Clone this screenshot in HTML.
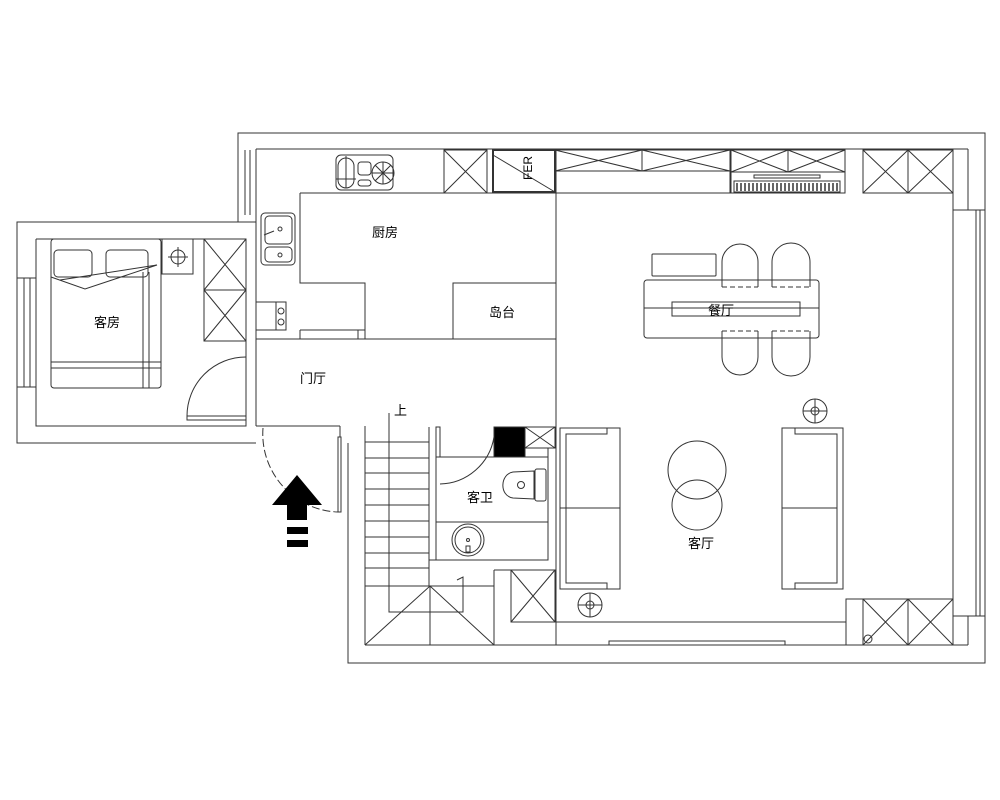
<!DOCTYPE html>
<html><head><meta charset="utf-8"><style>
html,body{margin:0;padding:0;background:#fff;width:1000px;height:800px;overflow:hidden}
text{font-family:"Liberation Sans","Noto Sans CJK SC",sans-serif;font-size:13px;fill:#000}
</style></head><body>
<svg width="1000" height="800" viewBox="0 0 1000 800" xmlns="http://www.w3.org/2000/svg">
<g fill="none" stroke="#333" stroke-width="1">
<!-- outer walls -->
<polyline points="238,215 238,133 985,133 985,663 348,663 348,443"/>
<polyline points="256,222 17,222 17,443 256,443"/>
<polyline points="36,239 246,239 246,426 36,426 36,239"/>
<line x1="256" y1="149" x2="256" y2="426"/>
<line x1="256" y1="149" x2="968" y2="149"/>
<line x1="953" y1="190" x2="953" y2="645"/>
<line x1="968" y1="149" x2="968" y2="210"/>
<line x1="953" y1="210" x2="985" y2="210"/>
<line x1="968" y1="616" x2="968" y2="645"/>
<line x1="953" y1="616" x2="985" y2="616"/>
<line x1="976" y1="210" x2="976" y2="616"/>
<line x1="980" y1="210" x2="980" y2="616"/>
<line x1="365" y1="645" x2="968" y2="645"/>
<line x1="365" y1="426" x2="365" y2="645"/>
<line x1="256" y1="426" x2="340" y2="426"/>
<line x1="238" y1="215" x2="238" y2="222"/>
<line x1="245" y1="150" x2="245" y2="215"/>
<line x1="250" y1="150" x2="250" y2="215"/>
<!-- guest window -->
<line x1="24" y1="278" x2="24" y2="387"/><line x1="30" y1="278" x2="30" y2="387"/>
<line x1="17" y1="278" x2="36" y2="278"/><line x1="17" y1="387" x2="36" y2="387"/>
<!-- bed -->
<rect x="51" y="239" width="110" height="149" rx="3"/>
<rect x="54" y="250" width="38" height="27" rx="4"/>
<rect x="106" y="250" width="42" height="27" rx="4"/>
<polyline points="51,277 85,289 157,265 60,280"/>
<line x1="51" y1="362" x2="161" y2="362"/><line x1="51" y1="368" x2="161" y2="368"/>
<line x1="143" y1="272" x2="143" y2="388"/><line x1="149" y1="272" x2="149" y2="388"/>
<rect x="162" y="239" width="31" height="35"/>
<circle cx="178" cy="257" r="7"/><line x1="168" y1="257" x2="188" y2="257"/><line x1="178" y1="247" x2="178" y2="267"/>
<!-- wardrobe -->
<rect x="204" y="239" width="42" height="102"/>
<line x1="204" y1="290" x2="246" y2="290"/>
<path d="M204,239 L246,290 M246,239 L204,290 M204,290 L246,341 M246,290 L204,341"/>
<!-- guest door -->
<path d="M187,416 A59,59 0 0 1 246,357"/>
<rect x="187" y="416" width="59" height="4"/>
<!-- kitchen -->
<polyline points="300,193 556,193"/>
<polyline points="300,193 300,283 365,283 365,339"/>
<rect x="453" y="283" width="103" height="56"/>
<line x1="256" y1="339" x2="556" y2="339"/>
<line x1="300" y1="330" x2="300" y2="339"/><line x1="358" y1="330" x2="358" y2="339"/><line x1="300" y1="330" x2="365" y2="330"/>
<line x1="556" y1="149" x2="556" y2="645"/>
<rect x="336" y="155" width="57" height="35" rx="5"/>
<rect x="338" y="158" width="16" height="30" rx="8"/>
<line x1="336" y1="179" x2="356" y2="179"/><line x1="346" y1="156" x2="346" y2="188"/>
<rect x="358" y="162" width="13" height="13" rx="3"/>
<rect x="358" y="180" width="13" height="6" rx="3"/>
<circle cx="383" cy="173" r="11"/><path d="M375,165 L391,181 M391,165 L375,181 M372,173 L394,173 M383,162 L383,184"/>
<rect x="444" y="150" width="43" height="43"/><path d="M444,150 L487,193 M487,150 L444,193"/>
<rect x="493" y="150" width="62" height="42" stroke-width="2"/><line x1="493" y1="155" x2="555" y2="192"/>
<rect x="261" y="213" width="34" height="52" rx="4"/>
<rect x="265" y="216" width="27" height="28" rx="4"/><rect x="265" y="247" width="27" height="15" rx="4"/>
<circle cx="280" cy="229" r="2"/><circle cx="280" cy="255" r="2"/><line x1="264" y1="235" x2="274" y2="231"/>
<rect x="256" y="302" width="20" height="28"/><rect x="256" y="302" width="30" height="28"/>
<circle cx="281" cy="311" r="3"/><circle cx="281" cy="322" r="3"/>
<!-- top cabinets -->
<rect x="555" y="150" width="175" height="43"/>
<line x1="555" y1="171" x2="730" y2="171"/><line x1="642" y1="150" x2="642" y2="171"/>
<path d="M555,150 L642,171 M642,150 L555,171 M642,150 L730,171 M730,150 L642,171"/>
<rect x="731" y="150" width="114" height="43"/>
<line x1="731" y1="172" x2="845" y2="172"/><line x1="788" y1="150" x2="788" y2="172"/>
<path d="M731,150 L788,172 M788,150 L731,172 M788,150 L845,172 M845,150 L788,172"/>
<rect x="754" y="175" width="66" height="3"/>
<rect x="734" y="181" width="106" height="11"/>
<rect x="863" y="150" width="90" height="43"/><line x1="908" y1="150" x2="908" y2="193"/>
<path d="M863,150 L908,193 M908,150 L863,193 M908,150 L953,193 M953,150 L908,193"/>
<!-- dining -->
<rect x="652" y="254" width="64" height="22" rx="1"/>
<rect x="644" y="280" width="175" height="58" rx="3"/>
<line x1="644" y1="308" x2="819" y2="308"/>
<rect x="672" y="302" width="128" height="14"/>
<path d="M722,287 L722,262 A18,18 0 0 1 758,262 L758,287"/>
<path d="M772,287 L772,262 A19,19 0 0 1 810,262 L810,287"/>
<path d="M722,331 L722,357 A18,18 0 0 0 758,357 L758,331"/>
<path d="M772,331 L772,357 A19,19 0 0 0 810,357 L810,331"/>
<path d="M722,287 L758,287 M772,287 L810,287 M722,331 L758,331 M772,331 L810,331" stroke-dasharray="5,3"/>
<!-- living -->
<circle cx="697" cy="470" r="29"/><circle cx="697" cy="505" r="25"/>
<rect x="560" y="428" width="60" height="161"/>
<polyline points="607,428 607,434 566,434 566,583 607,583 607,589"/>
<line x1="560" y1="508" x2="620" y2="508"/>
<rect x="782" y="428" width="61" height="161"/>
<polyline points="795,428 795,434 837,434 837,583 795,583 795,589"/>
<line x1="782" y1="508" x2="837" y2="508"/>
<circle cx="815" cy="411" r="12"/><circle cx="815" cy="411" r="4"/><path d="M803,411 L827,411 M815,399 L815,423"/>
<circle cx="590" cy="605" r="12"/><circle cx="590" cy="605" r="4"/><path d="M578,605 L602,605 M590,593 L590,617"/>
<polyline points="556,622 846,622 846,599 953,599"/>
<line x1="846" y1="622" x2="846" y2="645"/>
<rect x="863" y="599" width="90" height="46"/><line x1="908" y1="599" x2="908" y2="645"/>
<path d="M863,599 L908,645 M908,599 L863,645 M908,599 L953,645 M953,599 L908,645"/>
<circle cx="868" cy="639" r="4"/>
<rect x="609" y="641" width="176" height="4"/>
<!-- stairs -->
<line x1="429" y1="427" x2="429" y2="586"/>
<path d="M365,442 H429 M365,458 H429 M365,473 H429 M365,489 H429 M365,505 H429 M365,521 H429 M365,537 H429 M365,553 H429 M365,568 H429 M365,586 H494"/>
<polyline points="389,413 389,612 463,612 463,577 457,580"/>
<line x1="430" y1="586" x2="430" y2="645"/>
<path d="M365,645 L430,586 L494,645"/>
<line x1="494" y1="570" x2="494" y2="645"/>
<line x1="494" y1="570" x2="511" y2="570"/>
<!-- bath -->
<rect x="436" y="457" width="112" height="103"/>
<line x1="436" y1="522" x2="548" y2="522"/>
<rect x="436" y="427" width="4" height="30"/>
<path d="M440,484 A56,56 0 0 0 494,437"/>
<rect x="494" y="427" width="31" height="30" fill="#000"/>
<rect x="525" y="427" width="30" height="21"/><path d="M525,427 L555,448 M555,427 L525,448"/>
<line x1="548" y1="448" x2="555" y2="448"/><line x1="548" y1="448" x2="548" y2="560"/>
<path d="M534,471 L513,472 C500,474 499,496 513,498 L534,499 Z"/>
<rect x="535" y="469" width="11" height="32" rx="2"/>
<circle cx="521" cy="485" r="3.5"/>
<circle cx="468" cy="540" r="16"/><circle cx="468" cy="540" r="13"/>
<circle cx="468" cy="540" r="1.5"/><rect x="466" y="546" width="4" height="6"/>
<line x1="429" y1="560" x2="436" y2="560"/>
<rect x="511" y="570" width="44" height="52"/><path d="M511,570 L555,622 M555,570 L511,622"/>
<!-- entrance door -->
<path d="M263,428 A78,78 0 0 0 338,512" stroke-dasharray="8,3"/>
<rect x="338" y="437" width="3" height="75"/>
<line x1="340" y1="426" x2="340" y2="437"/>
</g>
<!-- arrow -->
<polygon points="297,475 272,505 287,505 287,520 307,520 307,505 322,505" fill="#000"/>
<rect x="287" y="527" width="21" height="7" fill="#000"/>
<rect x="287" y="540" width="21" height="7" fill="#000"/>
<!-- piano keys -->
<g stroke="#000" stroke-width="1.2">
<path d="M737,183 V191 M741,183 V191 M745,183 V191 M749,183 V191 M753,183 V191 M757,183 V191 M761,183 V191 M765,183 V191 M769,183 V191 M773,183 V191 M777,183 V191 M781,183 V191 M785,183 V191 M789,183 V191 M793,183 V191 M797,183 V191 M801,183 V191 M805,183 V191 M809,183 V191 M813,183 V191 M817,183 V191 M821,183 V191 M825,183 V191 M829,183 V191 M833,183 V191 M837,183 V191"/>
</g>
<text x="372" y="237">厨房</text>
<text x="489" y="317">岛台</text>
<text x="300" y="383">门厅</text>
<text x="394" y="415">上</text>
<text x="467" y="502">客卫</text>
<text x="688" y="548">客厅</text>
<text x="708" y="315">餐厅</text>
<text x="94" y="327">客房</text>
<text x="0" y="0" transform="translate(532,180) rotate(-90)" style="font-size:12px">FER</text>
</svg>
</body></html>
